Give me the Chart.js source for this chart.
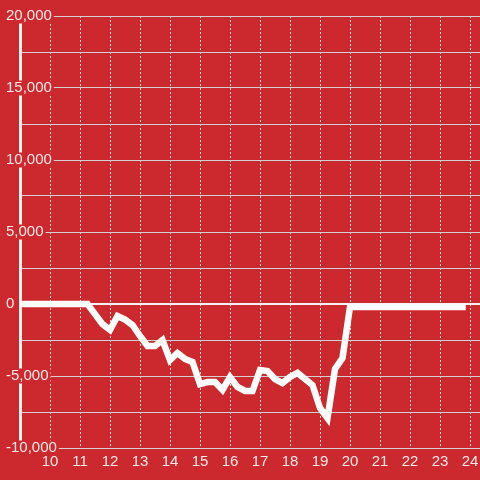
<!DOCTYPE html>
<html>
  <head>
    <script src="https://cdn.jsdelivr.net/npm/chart.js@4"></script>
    <style>
      html,
      body {
        margin: 0;
        padding: 0;
        background: #cc292e;
      }
      #chart {
        display: block;
      }
    </style>
  </head>

  <body>
    <canvas id="chart" width="480" height="480"></canvas>
  </body>

  <script>
    // hour of day (15 minute steps) and running total
    var hours = [
      9, 11.25, 11.5, 11.75, 12, 12.25, 12.5, 12.75, 13, 13.25, 13.5, 13.75,
      14, 14.25, 14.5, 14.75, 15, 15.25, 15.5, 15.75, 16, 16.25, 16.5, 16.75,
      17, 17.25, 17.5, 17.75, 18, 18.25, 18.5, 18.75, 19, 19.25, 19.5, 19.75,
      20, 23.75,
    ];
    var values = [
      0, 0, -700, -1400, -1800, -830, -1080, -1460, -2220, -2920, -2920,
      -2500, -3890, -3400, -3820, -4030, -5560, -5420, -5420, -5970, -5070,
      -5760, -6040, -6040, -4580, -4650, -5210, -5490, -5070, -4790, -5210,
      -5630, -7220, -7920, -4510, -3750, -200, -200,
    ];
    var xTicks = [10, 11, 12, 13, 14, 15, 16, 17, 18, 19, 20, 21, 22, 23, 24];
    var yTicks = [
      -10000, -7500, -5000, -2500, 0, 2500, 5000, 7500, 10000, 12500, 15000,
      17500, 20000,
    ];
    var yLabelled = [-10000, -5000, 0, 5000, 10000, 15000, 20000];

    var red = "#cc292e";
    var font = { family: "'Liberation Sans', Arial, sans-serif", size: 15, lineHeight: 1 };

    var points = [];
    for (let i = 0; i < hours.length; i++) {
      points.push({ x: hours[i], y: values[i] });
    }

    const ctx = document.getElementById("chart").getContext("2d");
    const chart = new Chart(ctx, {
      type: "line",
      data: {
        datasets: [
          {
            data: points,
            borderColor: "#ffffff",
            borderWidth: 6.5,
            borderCapStyle: "square",
            pointRadius: 0,
            tension: 0,
            fill: false,
          },
        ],
      },
      options: {
        responsive: false,
        animation: false,
        devicePixelRatio: 1,
        layout: {
          padding: { left: 5, top: 16, right: 0, bottom: 0 },
        },
        plugins: {
          legend: { display: false },
          tooltip: { enabled: false },
        },
        scales: {
          x: {
            type: "linear",
            min: 9,
            max: 24 + 1 / 3,
            afterBuildTicks: (axis) => {
              axis.ticks = xTicks.map((v) => ({ value: v }));
            },
            afterFit: (axis) => {
              axis.height = 32;
              axis.paddingLeft = 0;
              axis.paddingRight = 0;
            },
            grid: {
              color: "#dedede",
              lineWidth: 1,
              drawTicks: false,
            },
            border: { display: false, dash: [2, 2] },
            ticks: {
              color: "rgba(255,255,255,0.9)",
              font: font,
              padding: 6,
              maxRotation: 0,
              autoSkip: false,
            },
          },
          y: {
            min: -10000,
            max: 20000,
            afterBuildTicks: (axis) => {
              axis.ticks = yTicks.map((v) => ({ value: v }));
            },
            afterFit: (axis) => {
              axis.width = 15;
            },
            grid: {
              color: (c) => (c.tick && c.tick.value === 0 ? "#f4f4f4" : "#d2d2d2"),
              lineWidth: (c) => (c.tick && c.tick.value === 0 ? 2 : 1),
              drawTicks: false,
            },
            border: { display: true, color: "#eeeeee", width: 3 },
            ticks: {
              z: 1,
              mirror: true,
              padding: -14,
              crossAlign: "near",
              color: "rgba(255,255,255,0.9)",
              font: font,
              showLabelBackdrop: true,
              backdropColor: red,
              backdropPadding: { left: 2, right: 2, top: 0, bottom: 0 },
              callback: (v) => (yLabelled.includes(v) ? v.toLocaleString("en-US") : ""),
            },
          },
        },
      },
    });
  </script>
</html>
